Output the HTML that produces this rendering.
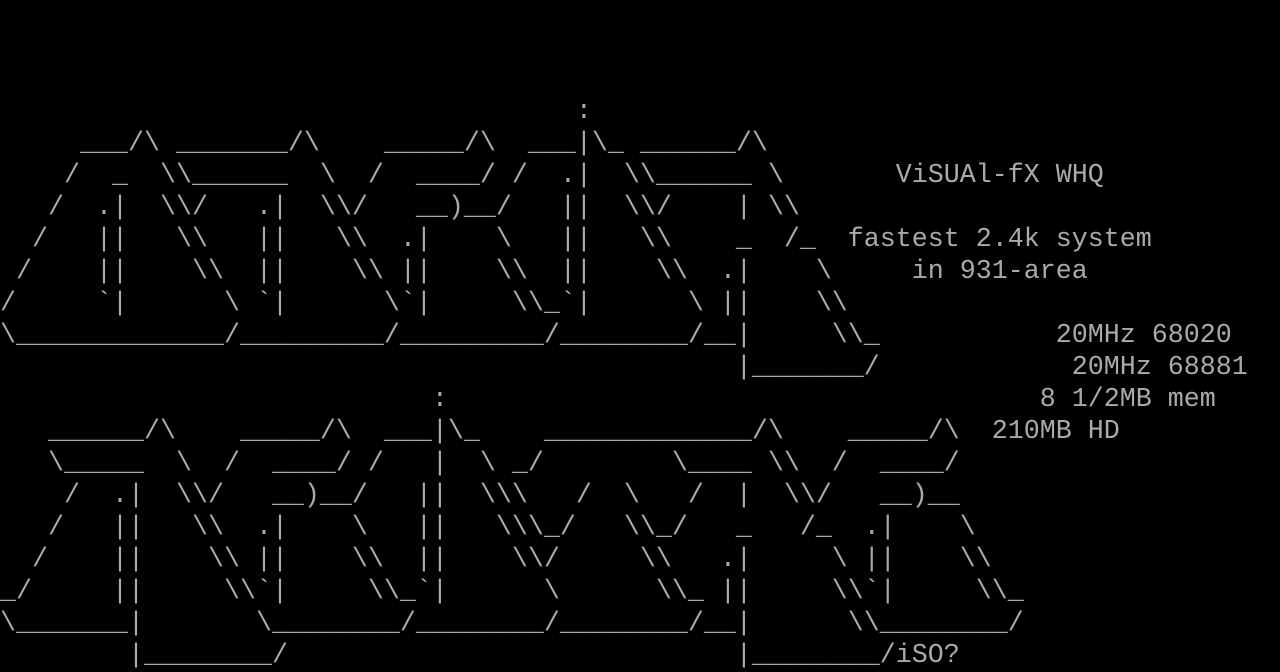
<!DOCTYPE html>
<html><head><meta charset="utf-8"><style>
html,body{margin:0;padding:0;background:#000;width:1280px;height:672px;overflow:hidden}
pre{margin:0;padding:0;font-family:"Liberation Mono","DejaVu Sans Mono",monospace;font-size:26.667px;line-height:32px;color:#aaaaaa;white-space:pre;letter-spacing:0}
</style></head><body><pre>



                                    :
     ___/\ _______/\    _____/\  ___|\_ ______/\
    /  _  \\______  \  /  ____/ /  .|  \\______ \       ViSUAl-fX WHQ
   /  .|  \\/   .|  \\/   __)__/   ||  \\/    | \\
  /   ||   \\   ||   \\  .|    \   ||   \\    _  /_  fastest 2.4k system
 /    ||    \\  ||    \\ ||    \\  ||    \\  .|    \     in 931-area
/     `|      \ `|      \`|     \\_`|      \ ||    \\
\_____________/_________/_________/________/__|     \\_           20MHz 68020
                                              |_______/            20MHz 68881
                           :                                     8 1/2MB mem
   ______/\    _____/\  ___|\_    _____________/\    _____/\  210MB HD
   \_____  \  /  ____/ /   |  \ _/        \____ \\  /  ____/
    /  .|  \\/   __)__/   ||  \\\   /  \   /  |  \\/   __)__
   /   ||   \\  .|    \   ||   \\\_/   \\_/   _   /_  .|    \
  /    ||    \\ ||    \\  ||    \\/     \\   .|     \ ||    \\
_/     ||     \\`|     \\_`|      \      \\_ ||     \\`|     \\_
\_______|       \________/________/________/__|      \\________/
        |________/                            |________/iSO?</pre></body></html>
